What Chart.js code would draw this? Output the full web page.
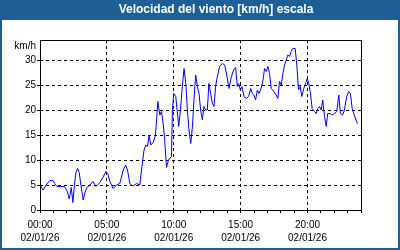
<!DOCTYPE html>
<html>
<head>
<meta charset="utf-8">
<script src="https://cdn.jsdelivr.net/npm/chart.js@4.4.1/dist/chart.umd.min.js"></script>
<style>
  html, body { margin: 0; padding: 0; background: #fff; }
  #wrap { width: 400px; height: 250px; }
</style>
</head>
<body>
<div id="wrap"><canvas id="myChart" width="400" height="250"></canvas></div>
<script>
// hours since midnight and wind speed (km/h)
const hours = [0.00, 0.22, 0.47, 0.72, 0.97, 1.10, 1.27, 1.49, 1.72, 1.84, 2.04, 2.19, 2.34, 2.46, 2.59, 2.69, 2.81, 2.93, 3.06, 3.23,
  3.36, 3.51, 3.73, 3.96, 4.18, 4.48, 4.70, 4.93, 5.07, 5.22, 5.47, 5.72, 5.97, 6.22, 6.40, 6.54, 6.72, 6.96, 7.22, 7.46,
  7.59, 7.78, 7.91, 8.04, 8.16, 8.28, 8.46, 8.63, 8.73, 8.81, 8.96, 9.08, 9.20, 9.31, 9.46, 9.55, 9.65, 9.83, 9.90, 10.00,
  10.15, 10.25, 10.37, 10.50, 10.65, 10.77, 10.90, 11.02, 11.14, 11.27, 11.40, 11.51, 11.64, 11.77, 11.89, 12.01, 12.14, 12.26, 12.39, 12.51,
  12.63, 12.76, 12.89, 13.01, 13.13, 13.26, 13.43, 13.63, 13.81, 13.98, 14.13, 14.31, 14.48, 14.63, 14.75, 14.85, 14.98, 15.10, 15.25, 15.43,
  15.60, 15.75, 15.87, 15.99, 16.12, 16.25, 16.37, 16.49, 16.66, 16.79, 16.92, 17.04, 17.16, 17.29, 17.49, 17.66, 17.78, 17.91, 18.04, 18.16,
  18.28, 18.41, 18.53, 18.66, 18.78, 18.90, 19.08, 19.20, 19.33, 19.46, 19.57, 19.72, 19.85, 19.98, 20.10, 20.22, 20.35, 20.52, 20.65, 20.77,
  20.90, 21.02, 21.14, 21.27, 21.40, 21.51, 21.69, 21.84, 22.01, 22.19, 22.34, 22.46, 22.63, 22.76, 22.93, 23.08, 23.21, 23.34, 23.46, 23.63,
  23.73];
const speed = [5.0, 4.0, 5.0, 5.9, 5.9, 5.3, 4.7, 4.7, 4.7, 4.7, 3.7, 2.2, 4.5, 1.5, 5.5, 7.5, 8.3, 7.5, 5.0, 2.0,
  3.5, 4.5, 5.0, 5.7, 4.7, 5.5, 6.5, 7.7, 7.3, 5.7, 4.3, 5.0, 5.3, 8.0, 9.0, 8.0, 5.3, 4.8, 5.3, 5.0,
  8.0, 12.0, 13.0, 12.7, 15.0, 13.0, 13.5, 15.0, 18.5, 21.7, 19.0, 19.7, 17.5, 14.5, 8.5, 9.5, 10.2, 10.7, 20.0, 23.3,
  22.7, 20.0, 16.7, 20.0, 25.0, 28.3, 25.3, 20.0, 16.0, 13.3, 16.7, 22.0, 27.0, 24.7, 23.3, 20.0, 18.0, 20.7, 20.0, 20.0,
  25.3, 23.3, 21.3, 20.7, 24.7, 26.7, 28.7, 29.3, 29.0, 26.7, 24.3, 26.7, 28.0, 28.5, 24.7, 25.3, 24.0, 24.7, 22.7, 22.3,
  22.7, 24.3, 23.3, 23.0, 22.0, 24.0, 23.3, 24.0, 25.7, 28.3, 27.7, 28.7, 27.3, 24.3, 23.7, 23.0, 22.3, 25.7, 25.0, 27.3,
  29.0, 30.0, 31.0, 30.7, 31.7, 32.3, 32.3, 29.0, 24.0, 24.7, 22.7, 24.3, 25.3, 26.3, 25.3, 23.3, 20.3, 19.7, 19.3, 20.3,
  20.7, 20.0, 22.0, 18.7, 16.7, 19.3, 19.3, 19.0, 19.3, 19.7, 23.0, 19.3, 19.0, 20.0, 22.7, 23.7, 23.3, 20.3, 19.3, 18.0,
  17.3];

const titleText = "Velocidad del viento [km/h] escala";
const unitText = "km/h";
const dateLabel = "02/01/26";

const BLUE = "#1e5f96";
const tickFont = { family: "'Liberation Sans', Arial, sans-serif", size: 10 };

function hourLabel(h) {
  return (h < 10 ? "0" + h : "" + h) + ":00";
}

const frame = {
  id: "frame",
  beforeDraw(chart) {
    const c = chart.ctx;
    c.save();
    c.fillStyle = "#ffffff";
    c.fillRect(0, 0, chart.width, chart.height);
    c.fillStyle = BLUE;
    c.fillRect(0, 0, chart.width, 20);
    c.fillStyle = "#ffffff";
    c.font = "bold 12px 'Liberation Sans', Arial, sans-serif";
    c.textAlign = "center";
    c.textBaseline = "middle";
    c.fillText(titleText, 216, 10);
    c.fillStyle = "#000";
    c.font = "10px 'Liberation Sans', Arial, sans-serif";
    c.textAlign = "right";
    c.fillText(unitText, 36, 46);
    c.restore();
  },
  afterDraw(chart) {
    const c = chart.ctx;
    const a = chart.chartArea;
    c.save();
    c.strokeStyle = "#000";
    c.lineWidth = 1;
    c.setLineDash([]);
    c.strokeRect(Math.round(a.left) + 0.5, Math.round(a.top) + 0.5,
      Math.round(a.right - a.left), Math.round(a.bottom - a.top));
    c.strokeStyle = BLUE;
    c.lineWidth = 2;
    c.strokeRect(1, 1, chart.width - 2, chart.height - 2);
    c.restore();
  }
};

const ctx = document.getElementById("myChart").getContext("2d");
const chart = new Chart(ctx, {
  type: "line",
  data: {
    datasets: [{
      data: hours.map((h, i) => ({ x: h, y: speed[i] })),
      borderColor: "#0000ff",
      borderWidth: 1,
      pointRadius: 0,
      tension: 0,
      fill: false
    }]
  },
  options: {
    responsive: false,
    animation: false,
    devicePixelRatio: 1,
    layout: { padding: { top: 40, right: 39, left: 0, bottom: 0 } },
    plugins: { legend: { display: false }, title: { display: false }, tooltip: { enabled: false } },
    scales: {
      x: {
        type: "linear",
        min: 0,
        max: 24,
        afterFit(scale) { scale.height = 40; },
        border: { display: false, dash: [3, 3] },
        grid: {
          color: (c) => (c.tick && c.tick.value % 5 === 0 ? "#000" : "rgba(0,0,0,0)"),
          tickColor: "#000",
          tickLength: 3,
          tickBorderDash: []
        },
        ticks: {
          stepSize: 1,
          autoSkip: false,
          maxRotation: 0,
          padding: 6,
          color: "#000",
          font: Object.assign({ lineHeight: 1.25 }, tickFont),
          callback: (v) => (v % 5 === 0 && v < 24 ? [hourLabel(v), dateLabel] : "")
        }
      },
      y: {
        min: 0,
        max: 34,
        afterFit(scale) { scale.width = 40; },
        border: { display: false, dash: [3, 3] },
        grid: {
          color: (c) => (c.tick && c.tick.value % 5 === 0 ? "#000" : "rgba(0,0,0,0)"),
          tickLength: 3,
          tickBorderDash: []
        },
        ticks: {
          stepSize: 5,
          padding: 1,
          color: "#000",
          font: tickFont,
          callback: (v) => (v % 5 === 0 ? v : "")
        }
      }
    }
  },
  plugins: [frame]
});
</script>
</body>
</html>
